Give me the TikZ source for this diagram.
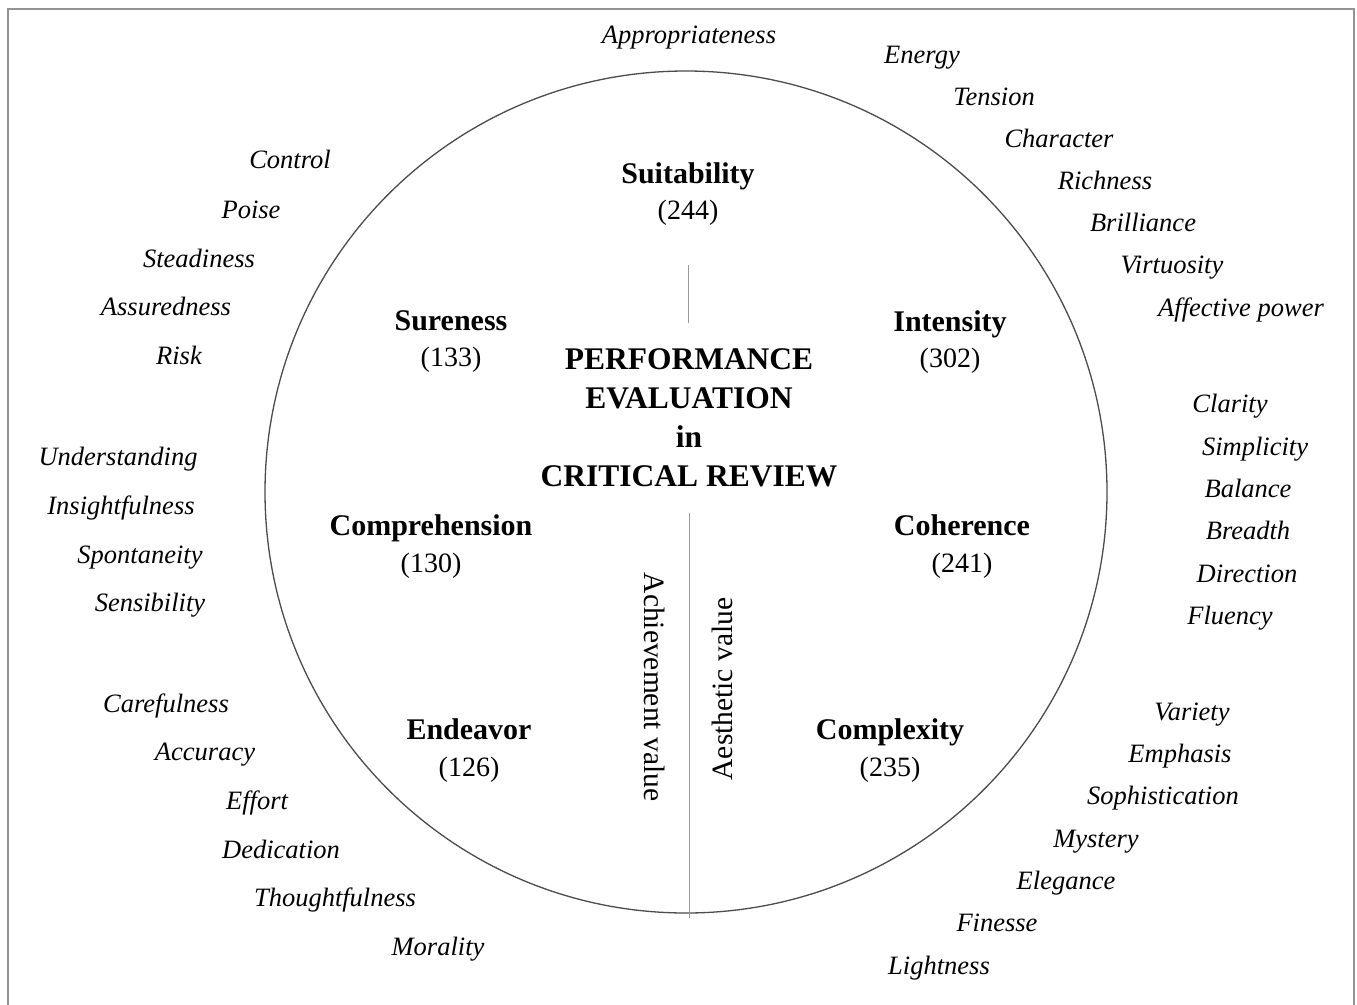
\documentclass[tikz,border=0pt]{standalone}
\usepackage{fontspec}
\setmainfont{Liberation Serif}
\begin{document}
\begin{tikzpicture}[x=1pt,y=-1pt,
  attr/.style={font=\fontsize{26.5}{30}\selectfont\itshape, inner sep=0pt, text height=0.62em, text depth=0.18em, yshift=-5.5pt},
  dimname/.style={font=\fontsize{30}{34}\selectfont\bfseries, inner sep=0pt, text height=0.66em, text depth=0.2em, yshift=-7pt},
  dimcount/.style={font=\fontsize{28}{32}\selectfont, inner sep=0pt},
  axislabel/.style={font=\fontsize{29.5}{32}\selectfont, inner sep=0pt},
  frameline/.style={draw=gray!85, line width=1.6pt},
  ringline/.style={draw=black!70, line width=1.3pt},
  axisline/.style={draw=gray!80, line width=1pt}]
\useasboundingbox (0,0) rectangle (1357,1004);
\fill[white] (0,0) rectangle (1357,1004);
% frame
\draw[frameline] (8,1010) -- (8,9) -- (1354,9) -- (1354,1010);
% circle
\node[ringline, circle, minimum size=842pt, inner sep=0pt] (ring) at (686,492) {};
% axis
\coordinate (axtopA) at (688.5,265);
\coordinate (axtopB) at (688.5,323);
\coordinate (axbotA) at (689,513);
\coordinate (axbotB) at (689,918);
\draw[axisline] (axtopA) -- (axtopB);
\draw[axisline] (axbotA) -- (axbotB);
% centre title
\node[font=\fontsize{31.5}{39}\selectfont\bfseries, align=center, inner sep=0pt] (title) at (689,418)
  {PERFORMANCE\\EVALUATION\\in\\CRITICAL REVIEW};
% axis labels
\node[axislabel, rotate=-90] (achv) at (655,687) {Achievement value};
\node[axislabel, rotate=90] (aesv) at (722,689) {Aesthetic value};
% dimensions
\node[dimname] (suit) at (688,174) {Suitability};
\node[dimcount] (suitn) at (688,213) {(244)};
\node[dimname] (sure) at (451,321) {Sureness};
\node[dimcount] (suren) at (451,360) {(133)};
\node[dimname] (inte) at (950,322) {Intensity};
\node[dimcount] (inten) at (950,361) {(302)};
\node[dimname] (comp) at (431,526) {Comprehension};
\node[dimcount] (compn) at (431,566) {(130)};
\node[dimname] (cohe) at (962,526) {Coherence};
\node[dimcount] (cohen) at (962,566) {(241)};
\node[dimname] (ende) at (469,730) {Endeavor};
\node[dimcount] (enden) at (469,770) {(126)};
\node[dimname] (cplx) at (890,730) {Complexity};
\node[dimcount] (cplxn) at (890,770) {(235)};
% attributes: top
\node[attr] (a1) at (689,36) {Appropriateness};
% right upper
\node[attr] (b1) at (922,56) {Energy};
\node[attr] (b2) at (994,98) {Tension};
\node[attr] (b3) at (1059,140) {Character};
\node[attr] (b4) at (1105,182) {Richness};
\node[attr] (b5) at (1143,224) {Brilliance};
\node[attr] (b6) at (1172,266) {Virtuosity};
\node[attr] (b7) at (1241,309) {Affective power};
% left upper
\node[attr] (c1) at (290,161) {Control};
\node[attr] (c2) at (251,211) {Poise};
\node[attr] (c3) at (199,260) {Steadiness};
\node[attr] (c4) at (166,308) {Assuredness};
\node[attr] (c5) at (179,357) {Risk};
% left middle
\node[attr] (d1) at (118,458) {Understanding};
\node[attr] (d2) at (121,507) {Insightfulness};
\node[attr] (d3) at (140,556) {Spontaneity};
\node[attr] (d4) at (150,604) {Sensibility};
% left lower
\node[attr] (e1) at (166,705) {Carefulness};
\node[attr] (e2) at (205,753) {Accuracy};
\node[attr] (e3) at (257,802) {Effort};
\node[attr] (e4) at (281,851) {Dedication};
\node[attr] (e5) at (335,899) {Thoughtfulness};
\node[attr] (e6) at (438,948) {Morality};
% right middle
\node[attr] (f1) at (1230,405) {Clarity};
\node[attr] (f2) at (1255,448) {Simplicity};
\node[attr] (f3) at (1248,490) {Balance};
\node[attr] (f4) at (1248,532) {Breadth};
\node[attr] (f5) at (1247,575) {Direction};
\node[attr] (f6) at (1230,617) {Fluency};
% right lower
\node[attr] (g1) at (1192,713) {Variety};
\node[attr] (g2) at (1180,755) {Emphasis};
\node[attr] (g3) at (1163,797) {Sophistication};
\node[attr] (g4) at (1096,840) {Mystery};
\node[attr] (g5) at (1066,882) {Elegance};
\node[attr] (g6) at (997,924) {Finesse};
\node[attr] (g7) at (939,967) {Lightness};
\end{tikzpicture}
\end{document}
